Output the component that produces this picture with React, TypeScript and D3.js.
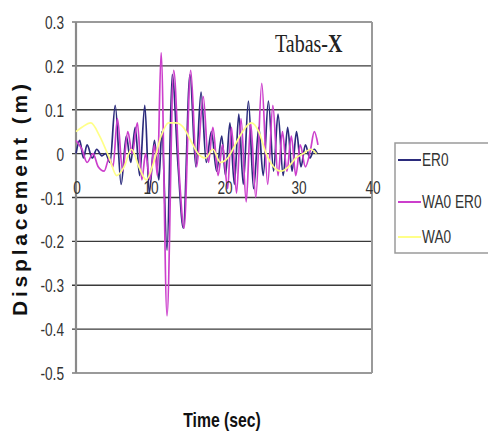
import React from "react";
import * as d3 from "d3";

const seriesNames = ["ER0", "WA0 ER0", "WA0"];
const seriesColors = ["#2b2b7c", "#cc3fcc", "#ffff88"];

const yTicks = [0.3, 0.2, 0.1, 0, -0.1, -0.2, -0.3, -0.4, -0.5];
const yTickLabels = ["0.3", "0.2", "0.1", "0", "-0.1", "-0.2", "-0.3", "-0.4", "-0.5"];
const xTicks = [0, 10, 20, 30, 40];
const xTickLabels = ["0", "10", "20", "30", "40"];

// [time (s), displacement (m)] extrema
const er0: [number, number][] = [
  [0, 0.0], [0.5, 0.03], [1.0, -0.01], [1.5, 0.02], [2.2, -0.01], [2.8, 0.01], [3.5, -0.005],
  [4.0, 0.0], [4.6, -0.02], [5.3, 0.11], [6.1, -0.07], [6.8, 0.04], [7.4, -0.02], [8.0, 0.06],
  [8.6, -0.05], [9.3, 0.11], [9.9, -0.09], [10.6, 0.03], [11.2, -0.06], [11.6, 0.05], [12.3, -0.22],
  [13.0, 0.18], [13.8, -0.03], [14.5, -0.17], [15.4, 0.18], [16.2, -0.03], [16.9, 0.14],
  [17.6, -0.02], [18.3, 0.05], [19.0, -0.04], [19.7, 0.04], [20.2, -0.05], [20.8, 0.07],
  [21.4, -0.07], [22.0, 0.09], [22.6, -0.07], [23.3, 0.12], [24.0, -0.08], [24.7, 0.06],
  [25.3, -0.05], [26.0, 0.12], [26.7, -0.04], [27.3, 0.09], [28.0, -0.05], [28.6, 0.06],
  [29.2, -0.04], [29.8, 0.05], [30.4, -0.03], [31.0, 0.02], [31.6, -0.01], [32.2, 0.01], [32.6, 0.0],
];

const wa0er0: [number, number][] = [
  [0, 0.03], [0.8, 0.01], [1.5, -0.02], [2.3, 0.0], [3.0, -0.03], [3.8, -0.04], [4.5, -0.01],
  [5.0, -0.03], [5.6, 0.08], [6.3, -0.04], [7.0, 0.05], [7.6, 0.0], [8.3, 0.07], [8.9, -0.06],
  [9.4, 0.0], [10.0, -0.06], [10.6, 0.02], [11.0, -0.05], [11.5, 0.23], [12.3, -0.37],
  [13.2, 0.19], [14.0, -0.06], [14.6, -0.17], [15.5, 0.19], [16.3, -0.03], [17.2, 0.13],
  [17.9, -0.02], [18.5, 0.06], [19.2, -0.05], [19.8, 0.02], [20.5, -0.08], [21.0, 0.06],
  [21.7, -0.09], [22.3, 0.08], [23.0, -0.11], [23.6, 0.07], [24.3, -0.1], [25.1, 0.16],
  [25.9, -0.07], [26.6, 0.11], [27.3, -0.05], [27.9, 0.05], [28.5, -0.04], [29.1, 0.04],
  [29.7, -0.05], [30.3, 0.02], [31.0, -0.03], [31.7, 0.01], [32.2, 0.05], [32.7, 0.02],
];

const wa0: [number, number][] = [
  [0, 0.05], [0.8, 0.06], [2.0, 0.07], [3.2, 0.04], [4.5, -0.01], [5.5, -0.05], [6.5, -0.03],
  [7.5, 0.01], [8.5, -0.03], [9.5, -0.06], [10.5, -0.02], [11.5, 0.04], [12.5, 0.07],
  [13.5, 0.07], [14.5, 0.06], [15.5, 0.03], [16.5, 0.0], [17.5, -0.01], [18.5, 0.01],
  [19.5, -0.02], [20.5, -0.01], [21.5, 0.02], [22.5, 0.05], [23.7, 0.07], [24.7, 0.05],
  [25.7, 0.0], [26.7, -0.03], [27.7, -0.04], [28.7, -0.03], [29.7, -0.01], [30.7, 0.0],
  [31.7, 0.01], [32.5, 0.0],
];

const seriesData = [er0, wa0er0, wa0];

const SANS = "'Liberation Sans', Arial, sans-serif";

function NarrowText(props: {
  x: number;
  y: number;
  size: number;
  anchor?: "start" | "middle" | "end";
  sx?: number;
  bold?: boolean;
  fill?: string;
  children: React.ReactNode;
}) {
  const sx = props.sx ?? 0.72;
  return (
    <text
      transform={`translate(${props.x},${props.y}) scale(${sx},1)`}
      textAnchor={props.anchor ?? "start"}
      fontFamily={SANS}
      fontSize={props.size}
      fontWeight={props.bold ? "bold" : "normal"}
      fill={props.fill ?? "#333"}
    >
      {props.children}
    </text>
  );
}

export default function App() {
  const W = 488, H = 436;
  const x = d3.scaleLinear().domain([0, 40]).range([76, 372]);
  const y = d3.scaleLinear().domain([-0.5, 0.3]).range([373, 22]);
  const line = d3
    .line<[number, number]>()
    .x((d) => x(d[0]))
    .y((d) => y(d[1]))
    .curve(d3.curveMonotoneX);

  return (
    <svg
      width={W}
      height={H}
      style={{ position: "absolute", left: 0, top: 0, background: "#fff" }}
    >
      {/* gridlines */}
      {yTicks.map((t) =>
        t === 0.3 || t === -0.5 ? null : (
          <line key={"g" + t} x1={72} x2={x(40)} y1={y(t)} y2={y(t)} stroke="#3a3a3a" strokeWidth={1.3} />
        )
      )}
      {/* plot border */}
      <line x1={72} x2={x(40)} y1={y(0.3)} y2={y(0.3)} stroke="#9a9a9a" strokeWidth={2} />
      <line x1={72} x2={x(40)} y1={y(-0.5)} y2={y(-0.5)} stroke="#9a9a9a" strokeWidth={2} />
      <line x1={x(40)} x2={x(40)} y1={y(0.3)} y2={y(-0.5)} stroke="#9a9a9a" strokeWidth={2} />
      <line x1={x(0)} x2={x(0)} y1={y(0.3)} y2={y(-0.5)} stroke="#8a8a8a" strokeWidth={2.2} />

      {/* series */}
      {seriesData.map((s, i) => (
        <path key={seriesNames[i]} d={line(s) || ""} fill="none" stroke={seriesColors[i]} strokeWidth={1.7} />
      ))}

      {/* y tick labels */}
      {yTicks.map((t, i) => (
        <NarrowText key={"yl" + t} x={64} y={y(t) + 7} size={19} anchor="end">
          {yTickLabels[i]}
        </NarrowText>
      ))}
      {/* x tick labels */}
      {xTicks.map((t, i) => (
        <NarrowText key={"xl" + t} x={x(t) + 1} y={y(0) + 40} size={19} anchor="middle">
          {xTickLabels[i]}
        </NarrowText>
      ))}

      {/* annotation */}
      <text
        transform="translate(275,52) scale(0.8,1)"
        fontFamily="'Liberation Serif', 'Times New Roman', serif"
        fontSize={25}
        fill="#222"
      >
        Tabas-<tspan fontWeight="bold">X</tspan>
      </text>

      {/* axis titles */}
      <text
        transform={`translate(27, ${200}) rotate(-90)`}
        textAnchor="middle"
        fontFamily={SANS}
        fontWeight="bold"
        fontSize={21}
        fill="#111"
        textLength={232}
        lengthAdjust="spacing"
      >
        Displacement (m)
      </text>
      <NarrowText x={222} y={427} size={21} anchor="middle" bold sx={0.75} fill="#111">
        Time (sec)
      </NarrowText>

      {/* legend */}
      <rect x={395} y={143} width={110} height={110} fill="#fff" stroke="#9a9a9a" strokeWidth={1.5} />
      {seriesNames.map((n, i) => {
        const ly = [160, 202, 237][i];
        return (
          <g key={"lg" + n}>
            <line x1={398} x2={421} y1={ly} y2={ly} stroke={seriesColors[i]} strokeWidth={2} />
            <NarrowText x={422} y={ly + 6} size={18} sx={0.76}>
              {n}
            </NarrowText>
          </g>
        );
      })}
    </svg>
  );
}
